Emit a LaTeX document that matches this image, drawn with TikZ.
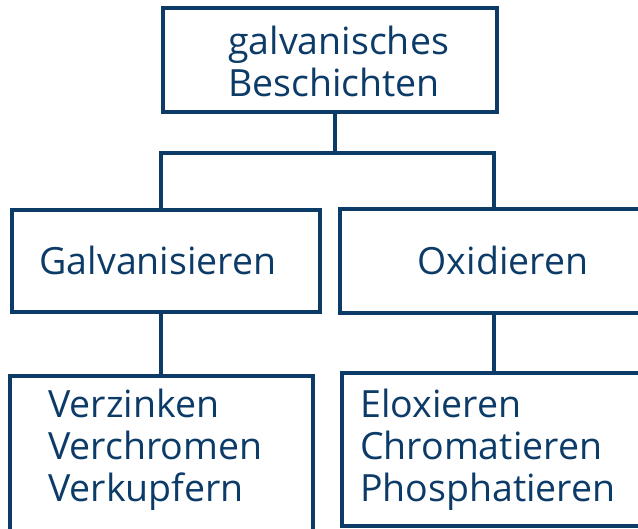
\documentclass[tikz,border=0pt]{standalone}
\usepackage{fontspec}
\setmainfont{Open Sans}
\definecolor{navy}{RGB}{12,59,104}
\begin{document}
\begin{tikzpicture}[x=1pt,y=-1pt,
  box/.style={draw=navy, line width=3.5pt, rectangle, inner sep=0pt},
  lbl/.style={text=navy, inner sep=0pt, font=\fontsize{37.5}{42}\selectfont},
  conn/.style={draw=navy, line width=3.5pt, line join=miter}]
\useasboundingbox (0,0) rectangle (638,529);
% boxes
\node[box, minimum width=334pt, minimum height=104pt] (top) at (330,60) {};
\node[box, minimum width=308pt, minimum height=102pt] (galv) at (166,261) {};
\node[box, minimum width=305pt, minimum height=104pt] (oxid) at (492.5,261) {};
\node[box, minimum width=303pt, minimum height=155pt] (ll) at (161.5,453.5) {};
\node[box, minimum width=303pt, minimum height=153pt] (lr) at (493.5,449.5) {};
% texts
\node[lbl, anchor=base west] (t1) at (228,55) {galvanisches};
\node[lbl, anchor=base west] (t2) at (228,97) {Beschichten};
\node[lbl, anchor=base] (t3) at (158,275) {Galvanisieren};
\node[lbl, anchor=base] (t4) at (503,275) {Oxidieren};
\node[lbl, anchor=base west] (t5) at (48,418) {Verzinken};
\node[lbl, anchor=base west] (t6) at (48,460) {Verchromen};
\node[lbl, anchor=base west] (t7) at (48,502) {Verkupfern};
\node[lbl, anchor=base west] (t8) at (360,418) {Eloxieren};
\node[lbl, anchor=base west] (t9) at (360,460) {Chromatieren};
\node[lbl, anchor=base west] (t10) at (360,502) {Phosphatieren};
% connectors
\coordinate (jt) at (335,153);
\coordinate (jl) at (161,153);
\coordinate (jr) at (494,153);
\draw[conn] (jt |- top.south) -- (jt);
\draw[conn] (jl |- galv.north) -- (jl) -- (jr) -- (jr |- oxid.north);
\draw[conn] (jl |- galv.south) -- (jl |- ll.north);
\draw[conn] (jr |- oxid.south) -- (jr |- lr.north);
\end{tikzpicture}
\end{document}
